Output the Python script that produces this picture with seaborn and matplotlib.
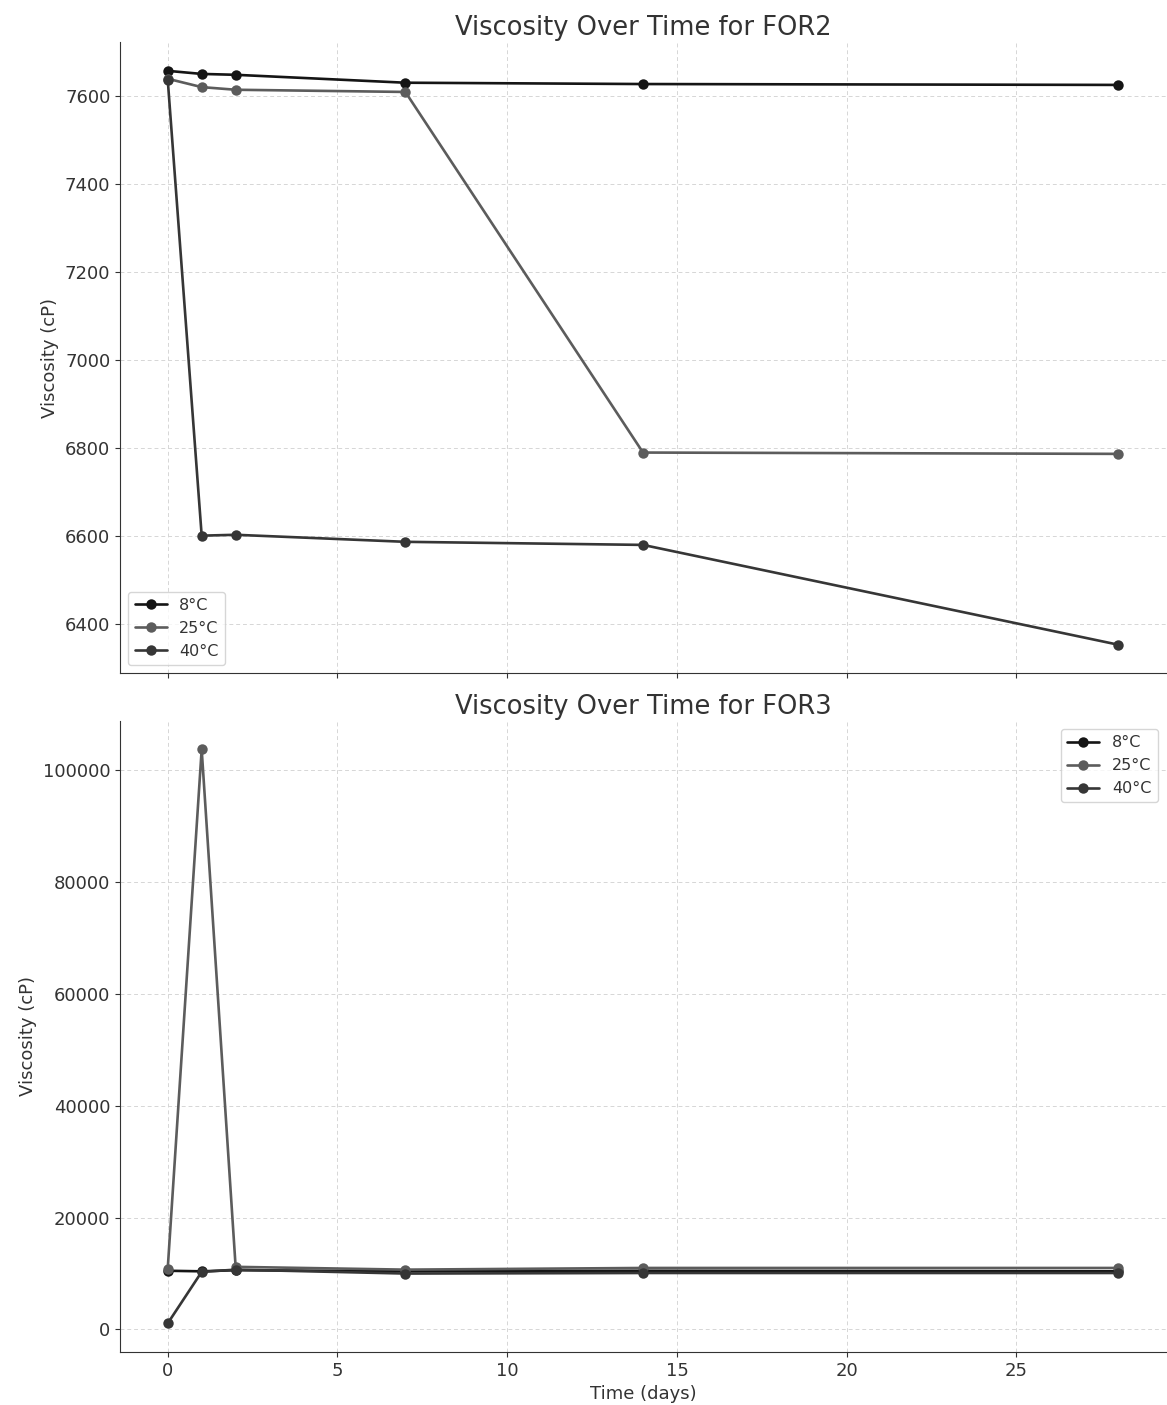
import numpy as np
import pandas as pd
import matplotlib
matplotlib.use("Agg")
import matplotlib.pyplot as plt
import seaborn as sns

days = [0, 1, 2, 7, 14, 28]
temps = ["8°C", "25°C", "40°C"]

for2_8 = [7657, 7650, 7648, 7630, 7627, 7625]
for2_25 = [7639, 7620, 7614, 7609, 6789, 6786]
for2_40 = [7637, 6600, 6602, 6586, 6579, 6352]

for3_8 = [10500, 10400, 10600, 10400, 10500, 10400]
for3_25 = [10900, 103700, 11200, 10700, 11000, 11000]
for3_40 = [1100, 10300, 10700, 10000, 10100, 10100]

palette = {"8°C": "#151515", "25°C": "#5c5c5c", "40°C": "#363636"}

def make_df(series):
    rows = []
    for t, vals in zip(temps, series):
        for d, v in zip(days, vals):
            rows.append({"Time": d, "Viscosity": v, "Temp": t})
    return pd.DataFrame(rows)

df2 = make_df([for2_8, for2_25, for2_40])
df3 = make_df([for3_8, for3_25, for3_40])

sns.set_style("ticks")
plt.rcParams["font.family"] = ["DejaVu Sans"]
plt.rcParams["text.color"] = "#333333"
plt.rcParams["axes.labelcolor"] = "#333333"
plt.rcParams["xtick.color"] = "#333333"
plt.rcParams["ytick.color"] = "#333333"

fig, axes = plt.subplots(2, 1, figsize=(11.67, 14.05), dpi=100, sharex=True)
fig.subplots_adjust(left=0.103, right=0.999, top=0.970, bottom=0.0377, hspace=0.075)

for ax, df, title, loc in [(axes[0], df2, "Viscosity Over Time for FOR2", "lower left"),
                           (axes[1], df3, "Viscosity Over Time for FOR3", "upper right")]:
    sns.lineplot(data=df, x="Time", y="Viscosity", hue="Temp", hue_order=temps,
                 palette=palette, marker="o", markersize=7.5, linewidth=1.9,
                 markeredgewidth=0, ax=ax)
    ax.set_title(title, fontsize=18.5, color="#333333", pad=5)
    ax.set_ylabel("Viscosity (cP)", fontsize=13)
    ax.grid(True, linestyle=(0, (4, 3)), color="#d6d6d6", linewidth=0.7)
    ax.tick_params(labelsize=13)
    for s in ["top", "right"]:
        ax.spines[s].set_visible(False)
    ax.spines["left"].set_color("#333333")
    ax.spines["bottom"].set_color("#333333")
    leg = ax.legend(loc=loc, fontsize=11.5, title=None, frameon=True)
    leg.get_frame().set_edgecolor("#cccccc")

axes[0].set_xlabel("")
axes[1].set_xlabel("Time (days)", fontsize=13)
axes[0].set_yticks([6400, 6600, 6800, 7000, 7200, 7400, 7600])
axes[1].set_yticks([0, 20000, 40000, 60000, 80000, 100000])
axes[1].set_xticks([0, 5, 10, 15, 20, 25])

fig.savefig("out.png", dpi=100)
